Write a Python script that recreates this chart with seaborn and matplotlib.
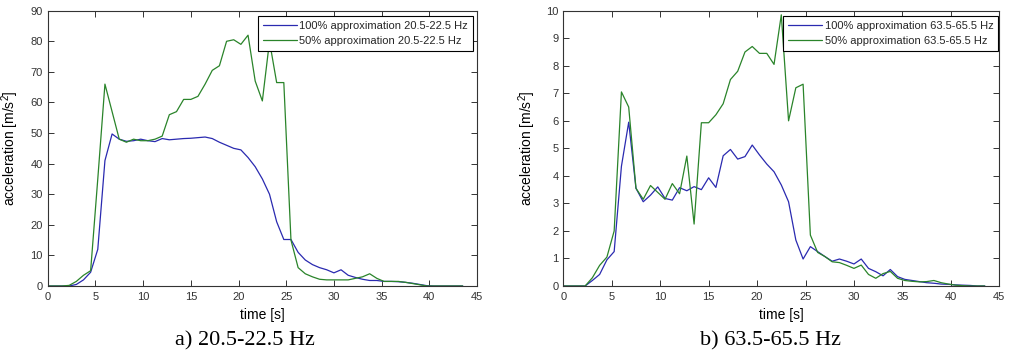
import numpy as np
import pandas as pd
import matplotlib
matplotlib.use("Agg")
import matplotlib.pyplot as plt
import seaborn as sns

# ---------------- data ----------------
time_s = [0.0, 0.75, 1.5, 2.25, 3.0, 3.75, 4.5, 5.25, 6.0, 6.75,
          7.5, 8.25, 9.0, 9.75, 10.5, 11.25, 12.0, 12.75, 13.5, 14.25,
          15.0, 15.75, 16.5, 17.25, 18.0, 18.75, 19.5, 20.25, 21.0, 21.75,
          22.5, 23.25, 24.0, 24.75, 25.5, 26.25, 27.0, 27.75, 28.5, 29.25,
          30.0, 30.75, 31.5, 32.25, 33.0, 33.75, 34.5, 35.25, 36.0, 36.75,
          37.5, 38.25, 39.0, 39.75, 40.5, 41.25, 42.0, 42.75, 43.5]

a_full_20 = [0, 0, 0, 0, 0.5, 2, 4.5, 12, 41, 49.7,
             48, 47.3, 47.5, 48, 47.5, 47.2, 48.2, 47.8, 48, 48.2,
             48.3, 48.5, 48.7, 48.2, 47, 46, 45, 44.5, 42, 39,
             35, 30, 21, 15.2, 15.2, 11, 8.5, 7, 6, 5.3,
             4.3, 5.3, 3.5, 2.8, 2.2, 1.8, 1.8, 1.5, 1.5, 1.4,
             1.2, 0.9, 0.5, 0.1, 0, 0, 0, 0, 0]

a_half_20 = [0, 0, 0, 0.2, 1.5, 3.5, 5, 35, 66, 57,
             48, 47, 48, 47.5, 47.5, 48, 49, 56, 57, 61,
             61, 62, 66, 70.5, 72, 80, 80.5, 79, 82, 67,
             60.5, 80, 66.5, 66.5, 15, 6, 4, 3, 2.2, 2,
             2, 2, 2, 2.5, 3, 4, 2.5, 1.5, 1.5, 1.5,
             1.2, 0.8, 0.4, 0, 0, 0, 0, 0, 0]

a_full_63 = [0, 0, 0, 0, 0.2, 0.42, 0.95, 1.25, 4.35, 5.95,
             3.55, 3.06, 3.3, 3.6, 3.18, 3.12, 3.57, 3.46, 3.61, 3.5,
             3.93, 3.58, 4.73, 4.96, 4.61, 4.7, 5.12, 4.76, 4.43, 4.15,
             3.67, 3.06, 1.67, 0.98, 1.43, 1.25, 1.07, 0.9, 0.98, 0.9,
             0.8, 0.98, 0.64, 0.52, 0.37, 0.6, 0.34, 0.24, 0.2, 0.16,
             0.12, 0.1, 0.07, 0.06, 0.04, 0.03, 0.02, 0, 0]

a_half_63 = [0, 0, 0, 0, 0.3, 0.75, 1.05, 2.0, 7.05, 6.5,
             3.55, 3.15, 3.65, 3.4, 3.15, 3.72, 3.35, 4.72, 2.25, 5.93,
             5.93, 6.22, 6.62, 7.5, 7.8, 8.5, 8.7, 8.45, 8.45, 8.05,
             9.85, 6.0, 7.2, 7.33, 1.85, 1.22, 1.07, 0.88, 0.85, 0.75,
             0.64, 0.76, 0.42, 0.28, 0.45, 0.53, 0.28, 0.2, 0.17, 0.15,
             0.16, 0.2, 0.12, 0.07, 0.03, 0.01, 0, 0, 0]

labels_20 = ["100% approximation 20.5-22.5 Hz", "50% approximation 20.5-22.5 Hz"]
labels_63 = ["100% approximation 63.5-65.5 Hz", "50% approximation 63.5-65.5 Hz"]
captions = ["a) 20.5-22.5 Hz", "b) 63.5-65.5 Hz"]
x_label = "time [s]"
y_label = r"acceleration [m/s$^2$]"

# ---------------- style ----------------
sns.set_theme(style="white")
plt.rcParams["font.family"] = ["Liberation Sans", "DejaVu Sans"]
plt.rcParams["mathtext.fontset"] = "custom"
plt.rcParams["mathtext.rm"] = "Liberation Sans"
plt.rcParams["mathtext.it"] = "Liberation Sans:italic"
plt.rcParams["mathtext.bf"] = "Liberation Sans:bold"

BLUE = "#2a2ab0"
GREEN = "#2a842a"
AXC = "#333333"

W, H = 1018, 351
fig = plt.figure(figsize=(W / 100, H / 100), dpi=100)

def px_axes(x0, x1, y0, y1):
    return fig.add_axes([x0 / W, 1 - y1 / H, (x1 - x0) / W, (y1 - y0) / H])

ax1 = px_axes(47.7, 477.0, 10.7, 286.0)
ax2 = px_axes(563.3, 999.3, 10.7, 286.0)

panels = [
    (ax1, a_full_20, a_half_20, labels_20, 90, 10, (0.991, 0.982), -0.062),
    (ax2, a_full_63, a_half_63, labels_63, 10, 1, (0.998, 0.982), -0.058),
]

for ax, full, half, labs, ymax, ystep, anchor, ylx in panels:
    df = pd.DataFrame({"t": time_s, "full": full, "half": half})
    sns.lineplot(data=df, x="t", y="full", ax=ax, color=BLUE, lw=0.9, label=labs[0])
    sns.lineplot(data=df, x="t", y="half", ax=ax, color=GREEN, lw=0.9, label=labs[1])
    ax.set_xlim(0, 45)
    ax.set_ylim(0, ymax)
    ax.set_xticks(np.arange(0, 46, 5))
    ax.set_yticks(np.arange(0, ymax + 0.001, ystep))
    ax.set_yticklabels([f"{v:g}" for v in np.arange(0, ymax + 0.001, ystep)])
    ax.tick_params(axis="both", which="both", direction="in", length=4, width=0.7,
                   colors=AXC, labelsize=8, top=True, right=True,
                   bottom=True, left=True)
    ax.tick_params(axis="x", pad=4)
    ax.tick_params(axis="y", pad=3.5)
    for sp in ax.spines.values():
        sp.set_visible(True)
        sp.set_color(AXC)
        sp.set_linewidth(0.8)
    ax.set_xlabel(x_label, fontsize=10, color="black")
    ax.set_ylabel(y_label, fontsize=10, color="black")
    ax.xaxis.set_label_coords(0.5, -0.08)
    ax.yaxis.set_label_coords(ylx, 0.5)
    leg = ax.legend(loc="upper right", bbox_to_anchor=anchor, borderaxespad=0,
                    fontsize=8, frameon=True, fancybox=False, framealpha=1,
                    edgecolor="black", handlelength=3.1, handletextpad=0.2,
                    labelspacing=0.45, borderpad=0.45)
    leg.get_frame().set_linewidth(0.8)

fig.text(245 / W, 1 - 345 / H, captions[0], ha="center", va="baseline",
         fontsize=16, family="Liberation Serif", color="black")
fig.text(770 / W, 1 - 345 / H, captions[1], ha="center", va="baseline",
         fontsize=16, family="Liberation Serif", color="black")

fig.savefig("out.png", dpi=100, facecolor="white")
